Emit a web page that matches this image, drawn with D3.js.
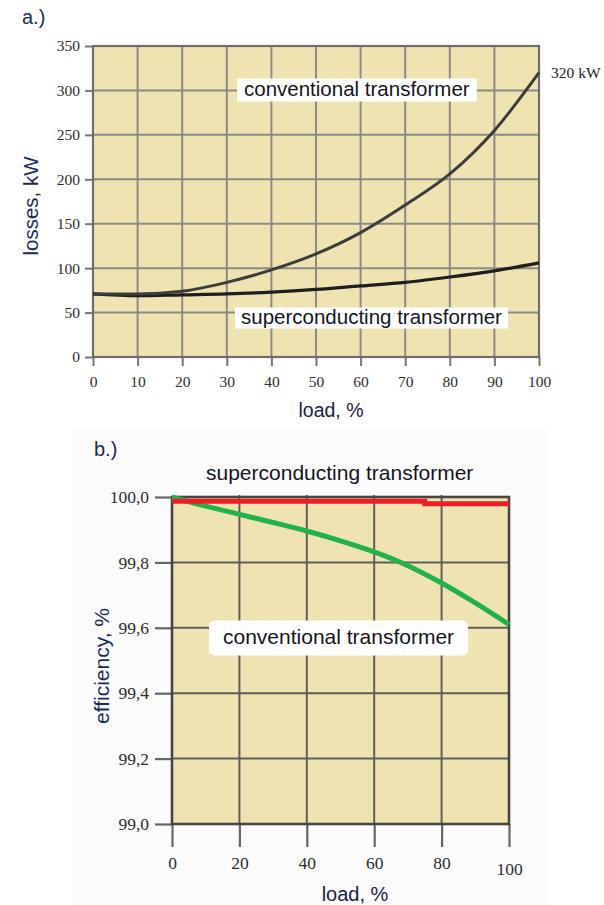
<!DOCTYPE html>
<html>
<head>
<meta charset="utf-8">
<script src="https://cdn.jsdelivr.net/npm/d3@7"></script>
<style>
  html, body { margin: 0; padding: 0; background: #ffffff; }
  svg { display: block; }
</style>
</head>
<body>
<svg id="chart" width="604" height="905"></svg>
<script>
// ---------- DATA ----------
// Chart a.) losses vs load
const loadA = [0, 10, 20, 30, 40, 50, 60, 70, 80, 90, 100];
const lossConventional = [71, 71, 74, 84, 98, 116, 140, 171, 206, 255, 320];
const lossSuperconducting = [71, 69, 70, 71, 73, 76, 80, 84, 90, 97, 106];
const ticksA_x = [0, 10, 20, 30, 40, 50, 60, 70, 80, 90, 100];
const ticksA_y = [0, 50, 100, 150, 200, 250, 300, 350];

// Chart b.) efficiency vs load
const loadB = [0, 10, 20, 30, 40, 50, 60, 70, 80, 90, 100];
const effConventional = [100.0, 99.972, 99.947, 99.922, 99.896, 99.866, 99.832, 99.79, 99.737, 99.676, 99.61];
const loadSup = [0, 25, 50, 75, 100];
const effSuperconducting = [99.987, 99.987, 99.987, 99.979, 99.979];
const ticksB_x = [0, 20, 40, 60, 80, 100];
const ticksB_y = [99.0, 99.2, 99.4, 99.6, 99.8, 100.0];

// ---------- STYLE ----------
const plotBg = "#efe4b1";
const sans = "'Liberation Sans', Arial, sans-serif";
const serif = "'Liberation Serif', 'Times New Roman', serif";
const navy = "#1d2b5a";
const tickCol = "#2e2e2e";

const svg = d3.select("#chart");

// very faint panel behind chart b
svg.append("rect").attr("x", 73).attr("y", 430).attr("width", 475).attr("height", 475)
  .attr("fill", "#fbfbfc");

// ================= CHART A =================
const xA = d3.scaleLinear().domain([0, 100]).range([93, 539]);
const yA = d3.scaleLinear().domain([0, 350]).range([357, 46]);

const gA = svg.append("g");
gA.append("rect")
  .attr("x", xA(0)).attr("y", yA(350))
  .attr("width", xA(100) - xA(0)).attr("height", yA(0) - yA(350))
  .attr("fill", plotBg);

gA.selectAll("line.vg").data(ticksA_x.slice(1, -1)).join("line")
  .attr("x1", d => xA(d)).attr("x2", d => xA(d))
  .attr("y1", yA(350)).attr("y2", yA(0))
  .attr("stroke", "#8c8a84").attr("stroke-width", 2);
gA.selectAll("line.hg").data(ticksA_y.slice(1, -1)).join("line")
  .attr("y1", d => yA(d)).attr("y2", d => yA(d))
  .attr("x1", xA(0)).attr("x2", xA(100))
  .attr("stroke", "#8c8a84").attr("stroke-width", 2);

const axA_y = gA.append("g").attr("transform", `translate(${xA(0)},0)`)
  .call(d3.axisLeft(yA).tickValues(ticksA_y).tickSize(8).tickPadding(5).tickFormat(d3.format("d")));
const axA_x = gA.append("g").attr("transform", `translate(0,${yA(0)})`)
  .call(d3.axisBottom(xA).tickValues(ticksA_x).tickSize(9).tickPadding(10).tickFormat(d3.format("d")));
[axA_y, axA_x].forEach(ax => {
  ax.select(".domain").remove();
  ax.selectAll(".tick line").attr("stroke", "#777").attr("stroke-width", 2);
  ax.selectAll(".tick text").attr("font-family", serif).attr("font-size", 15.5).attr("fill", tickCol);
});

gA.append("rect")
  .attr("x", xA(0)).attr("y", yA(350))
  .attr("width", xA(100) - xA(0)).attr("height", yA(0) - yA(350))
  .attr("fill", "none").attr("stroke", "#6e6d6a").attr("stroke-width", 2.2);

const lineA = d3.line().x(d => xA(d[0])).y(d => yA(d[1])).curve(d3.curveMonotoneX);
gA.append("path").datum(loadA.map((l, i) => [l, lossSuperconducting[i]]))
  .attr("d", lineA).attr("fill", "none").attr("stroke", "#1e1e1e").attr("stroke-width", 3.2);
gA.append("path").datum(loadA.map((l, i) => [l, lossConventional[i]]))
  .attr("d", lineA).attr("fill", "none").attr("stroke", "#3c3c3c").attr("stroke-width", 3);

function boxedLabel(g, text, x, yc, size, padX, padY, rx) {
  const box = g.append("rect").attr("fill", "#ffffff").attr("rx", rx || 0);
  const t = g.append("text").attr("x", x).attr("y", yc).attr("dy", "0.35em")
    .attr("font-family", sans).attr("font-size", size).attr("fill", "#15151f")
    .text(text);
  const bb = t.node().getBBox();
  box.attr("x", bb.x - padX).attr("y", yc - bb.height / 2 - padY + 1)
    .attr("width", bb.width + 2 * padX).attr("height", bb.height + 2 * padY);
  return t;
}
boxedLabel(gA, "conventional transformer", 244, 89, 20.5, 7, 0);
boxedLabel(gA, "superconducting transformer", 241, 317, 20.5, 6, -1);

gA.append("text").attr("x", 551).attr("y", 78)
  .attr("font-family", serif).attr("font-size", 15.5).attr("fill", "#222")
  .text("320 kW");

gA.append("text").attr("x", 22).attr("y", 24)
  .attr("font-family", sans).attr("font-size", 20).attr("fill", navy).text("a.)");

gA.append("text").attr("transform", `translate(38,206) rotate(-90)`)
  .attr("text-anchor", "middle")
  .attr("font-family", sans).attr("font-size", 20.5).attr("fill", navy).text("losses, kW");

gA.append("text").attr("x", 331).attr("y", 417).attr("text-anchor", "middle")
  .attr("font-family", sans).attr("font-size", 19.5).attr("fill", "#1c2340").text("load, %");

// ================= CHART B =================
const xB = d3.scaleLinear().domain([0, 100]).range([172, 509]);
const yB = d3.scaleLinear().domain([99, 100]).range([824, 497]);

const gB = svg.append("g");
gB.append("rect")
  .attr("x", xB(0)).attr("y", yB(100))
  .attr("width", xB(100) - xB(0)).attr("height", yB(99) - yB(100))
  .attr("fill", plotBg);

gB.selectAll("line.vg").data(ticksB_x.slice(1, -1)).join("line")
  .attr("x1", d => xB(d)).attr("x2", d => xB(d))
  .attr("y1", yB(100) - 2).attr("y2", yB(99))
  .attr("stroke", "#5f5e5a").attr("stroke-width", 2);
gB.selectAll("line.hg").data(ticksB_y.slice(1, -1)).join("line")
  .attr("y1", d => yB(d)).attr("y2", d => yB(d))
  .attr("x1", xB(0)).attr("x2", xB(100))
  .attr("stroke", "#5f5e5a").attr("stroke-width", 2);

const fmtB = v => d3.format(".1f")(v).replace(".", ",");
const axB_y = gB.append("g").attr("transform", `translate(${xB(0)},0)`)
  .call(d3.axisLeft(yB).tickValues(ticksB_y).tickSize(17).tickPadding(6).tickFormat(fmtB));
const axB_x = gB.append("g").attr("transform", `translate(0,${yB(99)})`)
  .call(d3.axisBottom(xB).tickValues(ticksB_x).tickSize(23).tickPadding(10).tickFormat(d3.format("d")));
[axB_y, axB_x].forEach(ax => {
  ax.select(".domain").remove();
  ax.selectAll(".tick line").attr("stroke", "#666").attr("stroke-width", 2.2);
  ax.selectAll(".tick text").attr("font-family", serif).attr("font-size", 17.5).attr("fill", tickCol);
});
axB_x.selectAll(".tick text").attr("dy", (d) => d === 100 ? "1em" : "0.71em");

gB.append("rect")
  .attr("x", xB(0)).attr("y", yB(100))
  .attr("width", xB(100) - xB(0)).attr("height", yB(99) - yB(100))
  .attr("fill", "none").attr("stroke", "#474644").attr("stroke-width", 2.6);

const lineB = d3.line().x(d => xB(d[0])).y(d => yB(d[1])).curve(d3.curveMonotoneX);
gB.append("path").datum(loadB.map((l, i) => [l, effConventional[i]]))
  .attr("d", lineB).attr("fill", "none").attr("stroke", "#22b24b").attr("stroke-width", 5);
gB.append("path").datum(loadSup.map((l, i) => [l, effSuperconducting[i]]))
  .attr("d", d3.line().x(d => xB(d[0])).y(d => yB(d[1])).curve(d3.curveStepAfter))
  .attr("fill", "none").attr("stroke", "#ee1c25").attr("stroke-width", 5);

gB.append("text").attr("x", 206).attr("y", 473).attr("dy", "0.35em")
  .attr("font-family", sans).attr("font-size", 21).attr("fill", "#15151f")
  .text("superconducting transformer");
boxedLabel(gB, "conventional transformer", 223, 637, 21, 14, 6, 6);

gB.append("text").attr("x", 94).attr("y", 456)
  .attr("font-family", sans).attr("font-size", 20).attr("fill", navy).text("b.)");

gB.append("text").attr("transform", `translate(109,666) rotate(-90)`)
  .attr("text-anchor", "middle")
  .attr("font-family", sans).attr("font-size", 21).attr("fill", navy).text("efficiency, %");

gB.append("text").attr("x", 355).attr("y", 901).attr("text-anchor", "middle")
  .attr("font-family", sans).attr("font-size", 20).attr("fill", "#1c2340").text("load, %");
</script>
</body>
</html>
